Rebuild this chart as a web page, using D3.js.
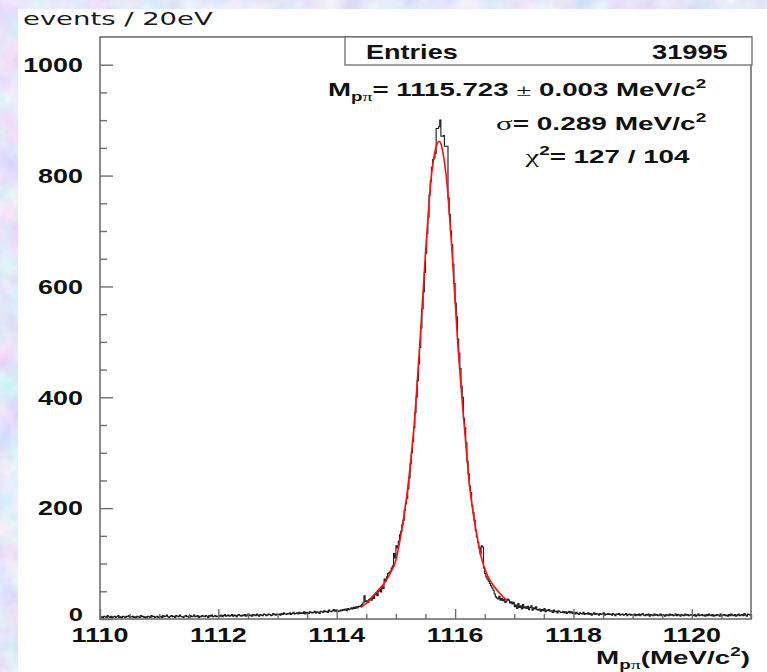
<!DOCTYPE html>
<html>
<head>
<meta charset="utf-8">
<script src="https://cdn.jsdelivr.net/npm/d3@7"></script>
<style>
  html, body { margin: 0; padding: 0; background: #c4cff4; overflow: hidden; }
  svg { display: block; }
  text { font-family: "Liberation Sans", Arial, Helvetica, sans-serif; font-weight: bold; fill: #111; }
</style>
</head>
<body>
<svg id="chart" width="767" height="672"></svg>
<script>
// ---- axis settings ----
const xTickValues = [1110, 1112, 1114, 1116, 1118, 1120];
const yTickValues = [0, 200, 400, 600, 800, 1000];
const xDomain = [1110, 1121];
const yDomain = [0, 1050];

// ---- Lambda -> p pi invariant mass histogram, 20 eV bins starting at 1110 MeV ----
const binLow = 1110;
const binWidth = 0.02;
const counts = [
  // 1110 - 1111
  3,4,2,5,4,3,6,4,3,5, 2,4,5,3,4,6,3,4,2,5, 4,3,5,4,6,3,4,5,3,4, 2,5,4,3,6,4,5,3,4,2, 5,4,3,6,4,5,3,4,5,3,
  // 1111 - 1112
  4,5,3,6,4,5,7,4,3,5, 6,4,5,3,6,5,4,7,5,4, 3,5,6,4,5,3,6,4,5,7, 4,5,6,3,5,4,6,5,4,6, 5,3,6,5,7,4,5,6,4,5,
  // 1112 - 1113
  6,5,7,4,6,8,5,6,7,5, 6,8,5,7,6,4,7,8,6,5, 7,6,8,5,7,9,6,7,5,8, 7,6,9,7,5,8,7,6,9,8, 6,7,9,8,6,7,10,8,7,9,
  // 1113 - 1114
  8,9,7,10,8,11,9,8,10,9, 11,8,10,12,9,10,11,9,12,10, 11,10,13,9,12,11,10,13,12,11, 12,14,11,13,12,10,14,13,12,15, 13,14,12,16,14,13,15,17,14,16,
  // 1114.0 - 1114.4
  13,15,14,16,15,17,16,18,15,19, 17,18,20,18,21,19,22,20,23,22,
  // 1114.4 - 1115.0
  24,26,29,42,31,33,30,35,37,34, 40,37,44,47,42,50,53,49,58,55, 72,68,76,82,84,86,92,96,118,110,
  // 1115.0 - 1115.6
  132,128,140,152,158,170,178,196,208,218, 235,255,280,300,320,345,372,400,430,460, 490,525,560,590,625,660,695,725,765,790,
  // 1115.6 - 1116.0
  815,829,832,840,885,885,888,900,871,871, 872,853,853,853,760,730,700,675,640,605,
  // 1116.0 - 1116.6
  570,545,505,480,452,420,400,362,345,318, 285,262,240,228,205,192,178,160,148,138, 128,118,132,130,92,82,76,72,68,64,
  // 1116.6 - 1117.0
  60,56,52,45,40,38,36,41,34,37, 33,35,30,32,36,34,29,31,27,30,
  // 1117.0 - 1118.0
  22,25,19,28,21,24,18,26,20,22, 19,23,17,21,24,16,20,18,22,17, 16,18,14,17,15,19,13,16,15,17,
  14,15,12,16,13,14,11,15,13,12, 12,14,11,13,10,12,14,11,13,10,
  // 1118 - 1119
  11,9,12,10,8,11,10,9,12,8, 10,9,11,8,10,7,9,11,8,10, 9,7,10,8,9,11,7,9,8,10, 8,9,7,10,8,6,9,8,10,7, 8,9,7,8,10,6,8,9,7,8,
  // 1119 - 1120
  7,9,6,8,7,9,6,8,10,7, 6,8,7,9,5,8,7,6,9,7, 8,6,7,9,6,8,7,5,8,7, 6,9,7,8,6,7,9,6,8,7, 5,8,7,6,9,7,8,6,7,8,
  // 1120 - 1121
  7,6,8,5,7,9,6,7,8,6, 7,5,8,6,9,7,6,8,5,7, 6,8,7,5,9,6,7,8,6,7, 5,8,6,9,7,6,8,5,7,9, 6,7,8,6,10,7,5,9,8,7
];

// ---- fitted line shape, sampled points (mass in MeV, events per bin) ----
const fitMass  = [1114.41, 1114.50, 1114.60, 1114.70, 1114.80, 1114.90, 1115.00, 1115.10, 1115.20, 1115.30,
                  1115.40, 1115.50, 1115.60, 1115.65, 1115.70, 1115.73, 1115.76, 1115.80, 1115.85, 1115.95,
                  1116.05, 1116.15, 1116.25, 1116.35, 1116.45, 1116.55, 1116.65, 1116.75, 1116.88];
const fitValue = [21, 28, 40, 52, 64, 82, 106, 162, 236, 340,
                  490, 660, 800, 838, 858, 862, 858, 838, 800, 660,
                  490, 355, 235, 162, 108, 78, 60, 47, 33];

// ---- statistics box ----
const entriesLabel = "Entries";
const entriesValue = "31995";
const massFit = { value: "1115.723", error: "0.003" };
const sigmaFit = "0.289";
const chi2 = { value: "127", ndf: "104" };

// ------------------------------------------------------------------
const svg = d3.select("#chart");
const W = 767, H = 672;
const STRETCH = 1.38;            // horizontal stretch applied to tick lettering
const GREEK = "'Liberation Serif', 'DejaVu Serif', serif";

// mottled page background
const defs = svg.append("defs");
const tex = defs.append("filter").attr("id", "mottle")
  .attr("x", 0).attr("y", 0).attr("width", "100%").attr("height", "100%");
tex.append("feTurbulence").attr("type", "fractalNoise")
  .attr("baseFrequency", "0.035").attr("numOctaves", 3).attr("seed", 7);
tex.append("feColorMatrix").attr("type", "matrix")
  .attr("values", [
    0.55, 0, 0, 0, 0.50,
    0, 0.45, 0, 0, 0.57,
    0, 0, 0.20, 0, 0.85,
    0, 0, 0, 0, 1
  ].join(" "));
svg.append("rect").attr("width", W).attr("height", H).attr("fill", "#c4cff4");
svg.append("rect").attr("width", W).attr("height", H).attr("filter", "url(#mottle)");

// white canvas
svg.append("rect").attr("x", 18).attr("y", 9).attr("width", W - 18).attr("height", H - 9).attr("fill", "#fff");

const frame = { left: 100, right: 751, top: 37, bottom: 619 };
const x = d3.scaleLinear().domain(xDomain).range([frame.left, frame.right]);
const y = d3.scaleLinear().domain(yDomain).range([frame.bottom, frame.top]);

const axisColor = "#6e6e6e";

// helper: text built from runs, stretched to start at x0 and end at x1
// run options: s = size factor, dy = vertical shift (in em of base size), f = font family
function spanText(runs, x0, x1, baseY, size) {
  const t = svg.append("text").attr("font-size", size);
  runs.forEach(r => {
    const ts = t.append("tspan").text(r.t);
    if (r.s) ts.attr("font-size", size * r.s);
    if (r.dy) ts.attr("dy", r.dy * size);
    if (r.f) ts.style("font-family", r.f).style("font-weight", "normal");
  });
  const bb = t.node().getBBox();
  const k = (x1 - x0) / bb.width;
  t.attr("transform", `translate(${x0 - bb.x * k},${baseY}) scale(${k},1)`);
  return t;
}

// axis title (y)
spanText([{ t: "events / 20eV" }], 23, 197, 25, 18)
  .style("font-family", "'DejaVu Sans', Verdana, sans-serif")
  .style("font-weight", "normal")
  .style("fill", "#1a1a1a");

// histogram (step outline)
const stepPts = counts.map((c, i) => [binLow + i * binWidth, c]);
stepPts.push([binLow + counts.length * binWidth, counts[counts.length - 1]]);
const stepLine = d3.line().x(d => x(d[0])).y(d => y(d[1])).curve(d3.curveStepAfter);
svg.append("path").attr("d", stepLine(stepPts))
  .attr("fill", "none").attr("stroke", "#1a1a1a").attr("stroke-width", 1.1);

// fitted curve
const fitLine = d3.line().x((d, i) => x(fitMass[i])).y(d => y(d)).curve(d3.curveMonotoneX);
svg.append("path").attr("d", fitLine(fitValue))
  .attr("fill", "none").attr("stroke", "#ff1010").attr("stroke-width", 1.6);

// frame
svg.append("rect")
  .attr("x", frame.left).attr("y", frame.top)
  .attr("width", frame.right - frame.left).attr("height", frame.bottom - frame.top)
  .attr("fill", "none").attr("stroke", axisColor).attr("stroke-width", 1.6);

// y axis ticks (drawn inside the frame)
const yAxis = d3.axisRight(y).tickValues(d3.range(0, 1001, 50))
  .tickSize(0).tickFormat("");
const gy = svg.append("g").attr("transform", `translate(${frame.left},0)`).call(yAxis);
gy.select(".domain").remove();
gy.selectAll(".tick line")
  .attr("x2", d => (d % 200 === 0 ? 13 : 7))
  .attr("stroke", axisColor).attr("stroke-width", 1.4);

yTickValues.forEach(v => {
  // the zero label sits slightly raised so it clears the mass labels below it
  svg.append("text")
    .attr("transform", `translate(83,${y(v) + (v === 0 ? 1.5 : 7.3)}) scale(${STRETCH},1)`)
    .attr("text-anchor", "end").attr("font-size", v === 0 ? 18.5 : 19.5)
    .text(v);
});

// x axis ticks (drawn inside the frame)
const xAxis = d3.axisTop(x).tickValues(d3.range(1110, 1121.001, 0.5))
  .tickSize(0).tickFormat("");
const gx = svg.append("g").attr("transform", `translate(0,${frame.bottom})`).call(xAxis);
gx.select(".domain").remove();
gx.selectAll(".tick line")
  .attr("y2", d => (Math.abs(d % 2) < 1e-6 ? -10 : -5))
  .attr("stroke", axisColor).attr("stroke-width", 1.4);

xTickValues.forEach(v => {
  svg.append("text")
    .attr("transform", `translate(${x(v)},642) scale(${STRETCH},1)`)
    .attr("text-anchor", "middle").attr("font-size", 19.5)
    .text(v);
});

// x axis title
spanText([
  { t: "M" },
  { t: "p", s: 0.68, dy: 0.28 }, { t: "\u03c0", s: 0.72, f: GREEK },
  { t: "(MeV/c", dy: -0.28 },
  { t: "2", s: 0.68, dy: -0.45 },
  { t: ")", dy: 0.45 }
], 596, 750, 664, 18.5);

// statistics box
svg.append("rect")
  .attr("x", 345).attr("y", frame.top).attr("width", 752 - 345).attr("height", 65 - frame.top)
  .attr("fill", "#fff").attr("stroke", axisColor).attr("stroke-width", 1.3);
spanText([{ t: entriesLabel }], 366, 458, 59, 19.5);
spanText([{ t: entriesValue }], 652, 728, 59, 19.5);

spanText([
  { t: "M" },
  { t: "p", s: 0.68, dy: 0.28 }, { t: "\u03c0", s: 0.72, f: GREEK },
  { t: "= " + massFit.value + " ", dy: -0.28 },
  { t: "\u00b1", f: GREEK },
  { t: " " + massFit.error + " MeV/c" },
  { t: "2", s: 0.68, dy: -0.45 }
], 328, 707, 96, 17.5);

spanText([
  { t: "\u03c3", f: GREEK, s: 1.1 },
  { t: "= " + sigmaFit + " MeV/c" },
  { t: "2", s: 0.68, dy: -0.45 }
], 496, 707, 130, 17.5);

spanText([
  { t: "\u03c7", f: GREEK, s: 1.1 },
  { t: "2", s: 0.68, dy: -0.45 },
  { t: "= " + chi2.value + " / " + chi2.ndf, dy: 0.45 }
], 524, 690, 163, 17.5);
</script>
</body>
</html>
